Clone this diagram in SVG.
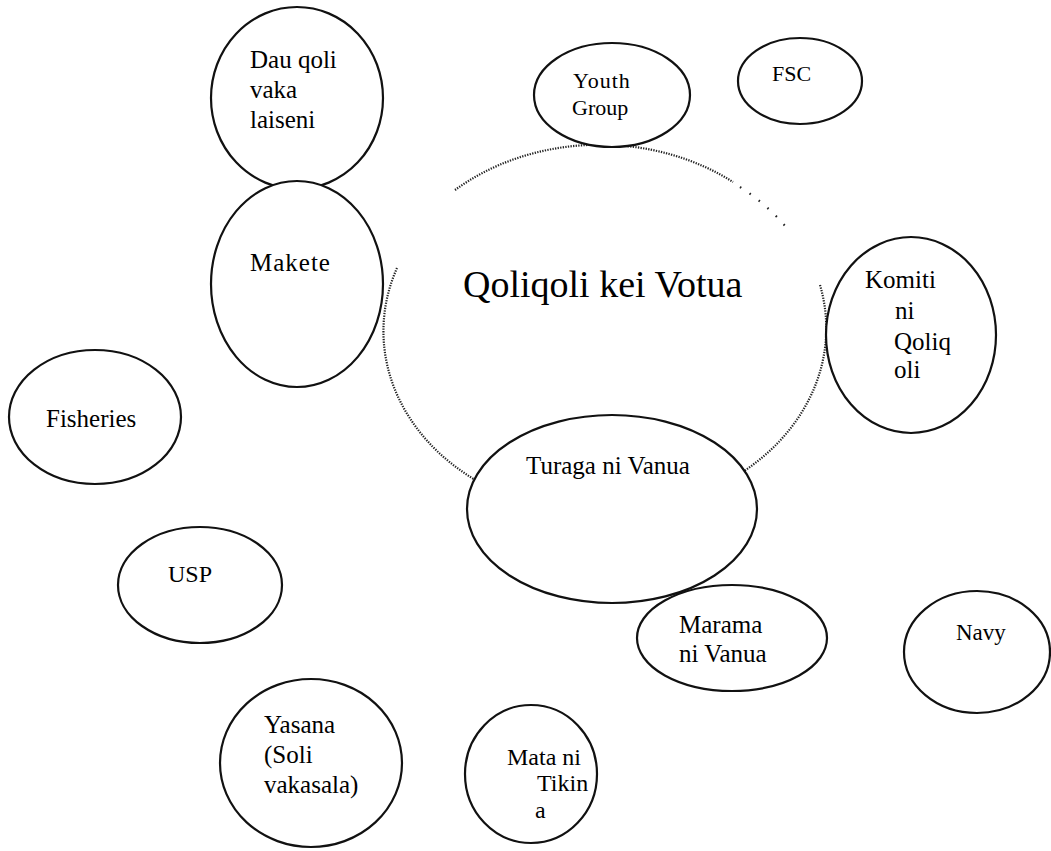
<svg xmlns="http://www.w3.org/2000/svg" width="1051" height="851" viewBox="0 0 1051 851">
<style>
.n ellipse{fill:#fff;stroke:#111;stroke-width:2.2}
text{font-family:"Liberation Serif","Times New Roman",serif;fill:#000;font-size:25px}
.s22{font-size:22px}
.dot{fill:none;stroke:#222;stroke-width:2.2;stroke-dasharray:1.3 1.3}
.sparse{fill:none;stroke:#222;stroke-width:2.2;stroke-dasharray:1.5 10}
</style>
<rect width="1051" height="851" fill="#fff"/>
<g id="qoliqoli-kei-votua">
<path class="dot" d="M455 190 A220 183 0 0 1 733 182"/>
<path class="sparse" d="M740 187 A220 183 0 0 1 790 232"/>
<path class="dot" d="M820 285 A220 183 0 0 1 718 486"/>
<path class="dot" d="M397 268 A220 183 0 0 0 486 486"/>
<text x="463" y="297" style="font-size:38px">Qoliqoli kei Votua</text>
</g>
<g id="connectors"></g>
<g id="dau-qoli" class="n">
<ellipse cx="297" cy="98" rx="86" ry="91"/>
<text x="250" y="68">Dau qoli</text>
<text x="250" y="98">vaka</text>
<text x="250" y="128">laiseni</text>
</g>
<g id="makete" class="n">
<ellipse cx="297" cy="284" rx="86" ry="103"/>
<text x="250" y="271" letter-spacing="1">Makete</text>
</g>
<g id="youth-group" class="n">
<ellipse cx="612" cy="95" rx="78" ry="52"/>
<text class="s22" x="573" y="88" letter-spacing="1">Youth</text>
<text class="s22" x="572" y="115">Group</text>
</g>
<g id="fsc" class="n">
<ellipse cx="800" cy="81" rx="62" ry="43"/>
<text class="s22" x="772" y="81">FSC</text>
</g>
<g id="komiti" class="n">
<ellipse cx="911" cy="335" rx="85" ry="98"/>
<text x="865" y="288">Komiti</text>
<text x="895" y="319">ni</text>
<text x="894" y="350">Qoliq</text>
<text x="894" y="378">oli</text>
</g>
<g id="turaga" class="n">
<ellipse cx="612" cy="509" rx="145" ry="94"/>
<text x="526" y="474">Turaga ni Vanua</text>
</g>
<g id="marama" class="n">
<ellipse cx="732" cy="638" rx="95" ry="53"/>
<text x="679" y="633">Marama</text>
<text x="679" y="662">ni Vanua</text>
</g>
<g id="navy" class="n">
<ellipse cx="977" cy="652" rx="73" ry="61"/>
<text x="956" y="640" style="font-size:23px">Navy</text>
</g>
<g id="fisheries" class="n">
<ellipse cx="95" cy="417" rx="86" ry="67"/>
<text x="46" y="427">Fisheries</text>
</g>
<g id="usp" class="n">
<ellipse cx="200" cy="585" rx="82" ry="58"/>
<text x="168" y="582" style="font-size:24px">USP</text>
</g>
<g id="yasana" class="n">
<ellipse cx="311" cy="763" rx="91" ry="84"/>
<text x="264" y="733">Yasana</text>
<text x="264" y="763">(Soli</text>
<text x="264" y="793">vakasala)</text>
</g>
<g id="mata" class="n">
<ellipse cx="531" cy="774" rx="66" ry="69"/>
<text x="507" y="765" style="font-size:24px">Mata ni</text>
<text x="537" y="791" style="font-size:24px">Tikin</text>
<text x="535" y="818" style="font-size:24px">a</text>
</g>
</svg>
